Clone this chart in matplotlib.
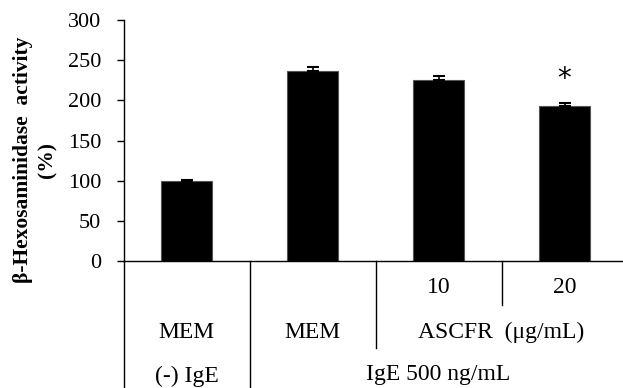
import numpy as np
import matplotlib
matplotlib.use("Agg")
import matplotlib.pyplot as plt
import matplotlib.ticker as ticker

# ── data ────────────────────────────────────────────────────────────────────
groups = ["MEM", "MEM", "10", "20"]
activity = [99, 236, 225, 193]
sem = [1.5, 6, 5, 4]
significant = [False, False, False, True]
y_ticks = [0, 50, 100, 150, 200, 250, 300]

plt.rcParams["font.family"] = ["Liberation Serif", "DejaVu Serif"]

fig = plt.figure(figsize=(6.23, 3.88), dpi=100)
# axes spans past the right edge, like the source figure
ax = fig.add_axes([123.5 / 623, 1 - 261 / 388, 504 / 623, 241 / 388])

x = np.arange(len(activity))
ax.bar(x, activity, width=0.4, color="black", edgecolor="#555555", linewidth=0.8)
ax.errorbar(x, activity, yerr=[np.zeros(len(sem)), sem], fmt="none",
            ecolor="black", elinewidth=1.2, capsize=4, capthick=1.5)
for xi, v, e, sig in zip(x, activity, sem, significant):
    if sig:
        ax.text(xi, v + e + 30, "*", ha="center", va="center", fontsize=20,
                family="DejaVu Sans")

ax.set_xlim(-0.5, 3.5)
ax.set_ylim(0, 300)
ax.yaxis.set_major_locator(ticker.FixedLocator(y_ticks))
ax.set_xticks([])
ax.tick_params(axis="y", direction="out", length=5, width=1, labelsize=16, pad=11)
ax.spines["top"].set_visible(False)
ax.spines["right"].set_visible(False)
ax.spines["left"].set_linewidth(1)
ax.spines["bottom"].set_linewidth(1)

ax.set_ylabel("β-Hexosaminidase  activity\n(%)", fontsize=15.5, fontweight="bold",
              linespacing=1.35)
ax.yaxis.set_label_coords(-0.13, 0.42)

# ── table under the x axis ──────────────────────────────────────────────────
tr = ax.get_xaxis_transform()
line_kw = dict(color="black", linewidth=1, transform=tr, clip_on=False)
ax.plot([-0.5, -0.5], [0, -0.53], **line_kw)
ax.plot([0.5, 0.5], [0, -0.53], **line_kw)
ax.plot([1.5, 1.5], [0, -0.36], **line_kw)
ax.plot([2.5, 2.5], [0, -0.183], **line_kw)

txt_kw = dict(ha="center", va="center", fontsize=17, transform=tr)
ax.text(2, -0.112, groups[2], **txt_kw)
ax.text(3, -0.112, groups[3], **txt_kw)
ax.text(0, -0.295, groups[0], **txt_kw)
ax.text(1, -0.295, groups[1], **txt_kw)
ax.text(2.5, -0.298, "ASCFR  (μg/mL)", **txt_kw)
ax.text(0, -0.478, "(-) IgE", **txt_kw)
ax.text(2, -0.47, "IgE 500 ng/mL", **txt_kw)

fig.savefig("out.png", dpi=100)
